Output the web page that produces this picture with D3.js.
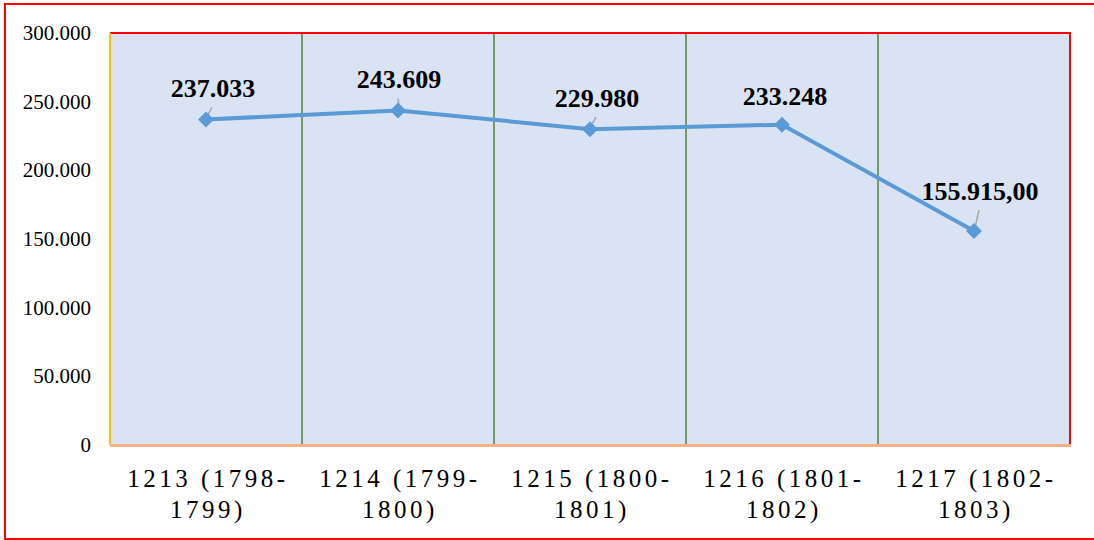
<!DOCTYPE html>
<html>
<head>
<meta charset="utf-8">
<script src="https://cdn.jsdelivr.net/npm/d3@7"></script>
<style>
  body { margin: 0; background: #fff; }
</style>
</head>
<body>
<div id="viz"></div>
<script>
"use strict";

var categories = [
  ["1213 (1798-", "1799)"],
  ["1214 (1799-", "1800)"],
  ["1215 (1800-", "1801)"],
  ["1216 (1801-", "1802)"],
  ["1217 (1802-", "1803)"]
];
var values = [237033, 243609, 229980, 233248, 155915];
var valueLabels = ["237.033", "243.609", "229.980", "233.248", "155.915,00"];
var yTicks = [0, 50000, 100000, 150000, 200000, 250000, 300000];
var yTickLabels = ["0", "50.000", "100.000", "150.000", "200.000", "250.000", "300.000"];

// small per-label nudges, like the hand-dragged labels in the original
var labelNudge = [[7, -22], [1, -22], [7, -22], [3, -20], [6, -31]];

var w = 1094;
var h = 540;
var plot = { left: 110, top: 33, right: 1070, bottom: 445 };

var svg = d3.select("#viz")
  .append("svg")
  .attr("width", w)
  .attr("height", h)
  .attr("font-family", "Liberation Serif");

// outer frame
svg.append("rect")
  .attr("x", 5).attr("y", 4)
  .attr("width", 1100).attr("height", 535)
  .attr("fill", "none")
  .attr("stroke", "#ff0000")
  .attr("stroke-width", 2);

var x = d3.scaleBand()
  .domain(d3.range(categories.length))
  .range([plot.left, plot.right])
  .padding(0);

var y = d3.scaleLinear()
  .domain([0, 300000])
  .range([plot.bottom, plot.top]);

// plot area
svg.append("rect")
  .attr("x", plot.left).attr("y", plot.top)
  .attr("width", plot.right - plot.left)
  .attr("height", plot.bottom - plot.top)
  .attr("fill", "#dae3f3");

// vertical gridlines between categories
svg.append("g")
  .selectAll("line")
  .data(d3.range(1, categories.length))
  .enter().append("line")
  .attr("x1", function(d) { return x(d); })
  .attr("x2", function(d) { return x(d); })
  .attr("y1", plot.top)
  .attr("y2", plot.bottom)
  .attr("stroke", "#548235")
  .attr("stroke-width", 1.5);

// plot borders
svg.append("line")
  .attr("x1", plot.left).attr("x2", plot.right + 1)
  .attr("y1", plot.top).attr("y2", plot.top)
  .attr("stroke", "#ff0000").attr("stroke-width", 2);
svg.append("line")
  .attr("x1", plot.right).attr("x2", plot.right)
  .attr("y1", plot.top).attr("y2", plot.bottom)
  .attr("stroke", "#ff0000").attr("stroke-width", 2);
svg.append("line")
  .attr("x1", plot.left).attr("x2", plot.left)
  .attr("y1", plot.top).attr("y2", plot.bottom)
  .attr("stroke", "#ffc000").attr("stroke-width", 2);
svg.append("line")
  .attr("x1", plot.left).attr("x2", plot.right + 1)
  .attr("y1", plot.bottom + 0.5).attr("y2", plot.bottom + 0.5)
  .attr("stroke", "#f4b183").attr("stroke-width", 3);

// y axis labels
svg.append("g")
  .selectAll("text")
  .data(yTicks)
  .enter().append("text")
  .attr("x", 91)
  .attr("y", function(d) { return y(d) + 7; })
  .attr("text-anchor", "end")
  .attr("font-size", "21px")
  .attr("fill", "#000")
  .text(function(d, i) { return yTickLabels[i]; });

// x axis labels
var xLab = svg.append("g")
  .selectAll("text")
  .data(categories)
  .enter().append("text")
  .attr("text-anchor", "middle")
  .attr("font-size", "25px")
  .attr("letter-spacing", "3.5px")
  .attr("fill", "#000");

xLab.each(function(d, i) {
  var cx = x(i) + x.bandwidth() / 2 + 2;
  d3.select(this).selectAll("tspan")
    .data(d)
    .enter().append("tspan")
    .attr("x", cx)
    .attr("y", function(t, j) { return 487 + j * 31; })
    .text(function(t) { return t; });
});

// line
var line = d3.line()
  .x(function(d, i) { return x(i) + x.bandwidth() / 2; })
  .y(function(d) { return y(d); });

svg.append("path")
  .datum(values)
  .attr("d", line)
  .attr("fill", "none")
  .attr("stroke", "#5b9bd5")
  .attr("stroke-width", 4)
  .attr("stroke-linejoin", "round");

// leader lines
svg.append("g")
  .selectAll("line")
  .data(values)
  .enter().append("line")
  .attr("x1", function(d, i) { return x(i) + x.bandwidth() / 2 + 1; })
  .attr("y1", function(d) { return y(d) - 3; })
  .attr("x2", function(d, i) { return x(i) + x.bandwidth() / 2 + labelNudge[i][0] - 1; })
  .attr("y2", function(d, i) { return y(d) + labelNudge[i][1] + 10; })
  .attr("stroke", "#a6a6a6")
  .attr("stroke-width", 1.5)
  .attr("display", function(d, i) { return i === 3 ? "none" : null; });

// markers
svg.append("g")
  .selectAll("path")
  .data(values)
  .enter().append("path")
  .attr("d", "M0,-8L8,0L0,8L-8,0Z")
  .attr("transform", function(d, i) {
    return "translate(" + (x(i) + x.bandwidth() / 2) + "," + y(d) + ")";
  })
  .attr("fill", "#5b9bd5");

// data labels
svg.append("g")
  .selectAll("text")
  .data(values)
  .enter().append("text")
  .attr("x", function(d, i) { return x(i) + x.bandwidth() / 2 + labelNudge[i][0]; })
  .attr("y", function(d, i) { return y(d) + labelNudge[i][1]; })
  .attr("text-anchor", "middle")
  .attr("font-size", "26px")
  .attr("font-weight", "bold")
  .attr("fill", "#000")
  .text(function(d, i) { return valueLabels[i]; });
</script>
</body>
</html>
